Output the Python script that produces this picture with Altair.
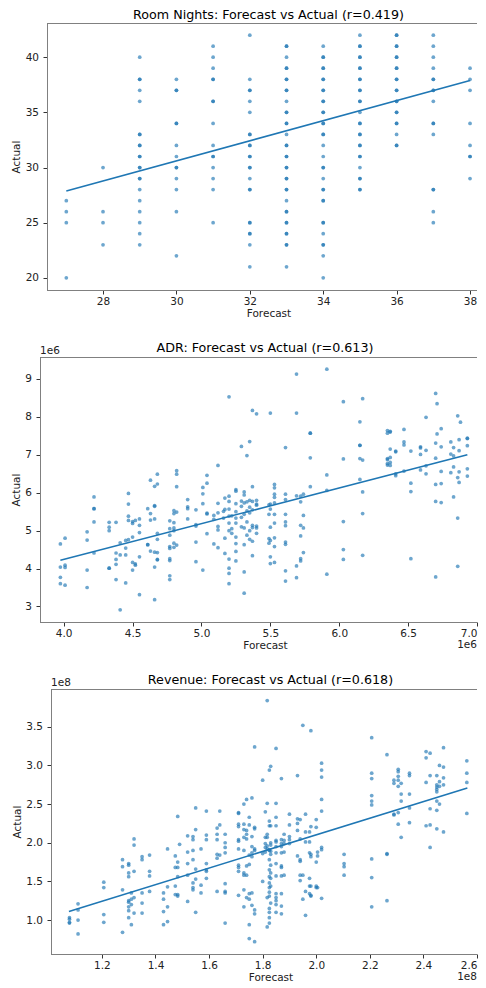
import altair as alt
import pandas as pd

FONT = "DejaVu Sans"
BLUE = "#1f77b4"
SPINE = "#808080"

# ---------------- Room Nights (forecast -> list of actuals) ----------------
rn_columns = {
    27: [27, 26, 25, 20],
    28: [30, 26, 25, 23],
    29: [40, 38, 38, 37, 36, 33, 33, 32, 32, 31, 31, 30, 30, 29, 29, 28, 27, 26, 25, 24, 23],
    30: [38, 37, 37, 34, 34, 32, 31, 30, 30, 29, 28, 26, 22],
    31: [41, 40, 39, 38, 38, 36, 36, 34, 32, 31, 31, 30, 29, 28, 25],
    32: [42, 38, 37, 37, 36, 35, 33, 33, 32, 32, 31, 31, 30, 30, 29, 28, 28, 25, 25, 24, 24, 23, 21],
    33: [41, 41, 40, 39, 39, 38, 38, 37, 37, 36, 35, 35, 34, 34, 33, 32, 32, 31, 31, 30, 30,
         29, 29, 28, 28, 27, 26, 26, 25, 25, 24, 24, 23, 23, 21],
    34: [41, 40, 40, 39, 39, 38, 38, 37, 37, 36, 36, 35, 35, 34, 34, 33, 33, 32, 31, 30, 30,
         29, 28, 28, 27, 27, 25, 25, 24, 23, 23, 22, 20],
    35: [42, 41, 41, 40, 40, 39, 39, 38, 38, 37, 37, 36, 36, 35, 34, 34, 33, 33, 32, 32, 31,
         31, 30, 29, 29, 28, 28],
    36: [42, 42, 41, 41, 40, 40, 39, 39, 38, 38, 37, 37, 36, 36, 35, 35, 34, 34, 33, 32, 32],
    37: [42, 41, 40, 39, 38, 38, 37, 37, 36, 34, 34, 33, 28, 28, 26, 25],
    38: [39, 38, 37, 34, 32, 31, 31, 29],
}
rn_fit_x = [27, 38]
rn_fit_y = [27.87, 37.88]

# ---------------- ADR (values in units of 1e6) ----------------
adr_columns = {
    3.976: [4.65, 4.04, 3.77, 3.60],
    4.01: [4.80, 4.09, 4.03, 3.56],
    4.17: [4.97, 4.75, 3.96, 3.50],
    4.22: [5.89, 5.58, 5.58, 5.23, 4.41],
    4.33: [5.22, 5.09, 5.00, 4.01, 4.01],
    4.38: [5.22, 4.41, 4.24, 4.11, 3.71],
    4.41: [4.68, 4.36, 2.91],
    4.45: [4.74, 4.54, 4.36, 3.62],
    4.47: [5.98, 5.70, 5.38, 5.27, 4.76],
    4.50: [5.24, 5.19, 4.83, 4.16, 3.96],
    4.52: [5.27, 4.12, 4.09],
    4.55: [5.31, 5.14, 4.95, 4.31, 3.31],
    4.61: [5.58, 4.63, 4.63],
    4.63: [6.33, 5.45, 5.28, 4.46],
    4.66: [6.17, 5.66, 5.64, 5.31, 4.43, 4.04, 3.18],
    4.68: [6.49, 6.23, 4.93, 4.77, 4.42, 4.24, 4.23],
    4.77: [5.26, 5.05, 4.88, 4.58, 4.53, 4.26, 4.21, 3.81, 3.71],
    4.80: [5.53, 5.45, 5.21, 5.07, 5.00, 4.67, 4.56],
    4.82: [6.58, 6.49, 6.16, 5.49, 4.62],
    4.90: [5.82, 5.63, 5.58, 5.31],
    4.96: [5.55, 5.16, 5.12, 4.70, 4.18],
    5.01: [6.14, 5.97, 5.71, 3.96],
    5.04: [6.46, 6.25, 5.46, 5.44, 4.92],
    5.09: [5.40, 5.30, 4.65],
    5.12: [6.72, 5.72, 5.47, 5.11, 5.02, 4.55],
    5.16: [5.51, 5.33],
    5.17: [5.86, 5.56, 4.80, 4.40],
    5.20: [8.53, 5.91, 5.77, 5.57, 5.38, 5.20, 5.00, 4.25, 4.01, 3.87, 3.60],
    5.22: [5.39, 5.05, 4.93],
    5.25: [6.08, 6.04, 5.71, 5.50, 5.33, 5.20, 4.83, 4.66, 4.45, 4.20],
    5.29: [7.22, 5.78, 5.64, 5.35, 5.10],
    5.31: [6.02, 5.94, 5.73, 5.43, 5.07, 4.63, 3.91, 3.35],
    5.33: [6.98, 5.76, 5.52, 5.23, 4.88],
    5.35: [7.35, 5.80, 5.62, 5.47, 5.00, 4.77],
    5.37: [8.17, 6.16, 5.77, 5.55, 5.14, 5.08, 4.72, 4.34],
    5.40: [8.08, 5.80, 5.70, 5.67, 5.12, 5.07, 4.93],
    5.49: [5.68, 5.43, 4.79, 4.67],
    5.50: [8.10, 5.70, 5.57, 5.09, 4.74, 4.31, 4.13],
    5.53: [6.22, 6.13, 5.96, 5.88, 5.73, 5.43, 5.20, 4.81, 4.58, 4.16],
    5.61: [7.19, 5.96, 5.82, 5.43, 5.23, 5.13, 4.70, 4.64, 3.94, 3.67],
    5.69: [9.13, 8.10, 5.92, 4.07, 3.76],
    5.72: [5.91, 5.76, 5.14, 4.86, 4.26, 4.20],
    5.74: [5.96, 5.40, 5.07, 4.42],
    5.79: [7.57, 7.57, 6.92, 6.16],
    5.91: [9.26, 6.47, 6.06, 3.85],
    6.03: [8.40, 6.89, 5.24, 4.50, 4.24],
    6.15: [7.87, 7.25, 7.25, 6.90, 6.35],
    6.17: [8.48, 6.86, 6.02, 5.45, 4.35],
    6.35: [7.64, 7.57, 6.90, 6.87, 6.77, 6.73],
    6.37: [7.62, 7.60, 7.15, 6.93, 6.80, 6.72],
    6.41: [7.10, 7.08, 6.50, 6.45],
    6.47: [7.67, 7.34, 7.26, 6.57],
    6.52: [7.10, 6.25, 6.03, 4.26],
    6.59: [7.21, 7.18, 7.01, 6.60],
    6.63: [7.99, 7.12, 6.71, 6.50],
    6.70: [8.62, 7.31, 6.91, 6.22, 5.77, 3.78],
    6.71: [8.35, 7.55],
    6.74: [7.69, 7.21, 6.56, 6.24, 5.74],
    6.81: [7.34, 7.02, 6.53],
    6.83: [7.19, 6.97, 6.68, 5.89],
    6.86: [8.03, 6.40, 5.33, 4.06],
    6.87: [7.40, 7.11, 6.55, 6.27],
    6.88: [7.86],
    6.93: [7.44, 7.43, 7.24, 6.63, 6.44],
}
adr_fit_x = [3.976, 6.93]
adr_fit_y = [4.22, 7.00]

# ---------------- Revenue (values in units of 1e8) ----------------
rev_columns = {
    1.079: [1.03, 1.01, 0.97, 0.96],
    1.111: [1.21, 1.13, 1.00, 0.82],
    1.207: [1.49, 1.42, 1.07, 0.97],
    1.277: [1.78, 1.69, 1.39, 0.84],
    1.30: [1.73, 1.71, 1.61, 1.56, 1.25, 1.23, 1.17, 1.12, 1.03],
    1.31: [1.35, 1.27, 1.20, 0.94],
    1.32: [2.05, 1.97, 1.63, 1.29, 1.09],
    1.35: [1.82, 1.78, 1.35, 1.22, 1.09],
    1.378: [1.84, 1.63, 1.57, 1.37],
    1.43: [1.35, 1.27, 1.11, 0.94],
    1.445: [1.92, 1.43, 1.17, 0.98],
    1.474: [1.83, 1.68, 1.44, 1.33],
    1.483: [2.34, 1.75, 1.68, 1.56, 1.33, 1.31],
    1.49: [1.98],
    1.52: [2.09, 1.88, 1.73, 1.58, 1.24],
    1.54: [2.08, 2.04, 1.90, 1.78, 1.48, 1.42, 1.39],
    1.55: [2.45, 2.17, 1.66, 1.53, 1.10],
    1.57: [1.92, 1.45, 1.35],
    1.59: [2.41, 2.10, 2.04, 1.73, 1.65, 1.63, 1.54],
    1.63: [2.19, 2.11, 2.04, 1.85, 1.80, 1.37],
    1.64: [2.41, 2.23, 1.84],
    1.66: [2.11, 2.00, 1.94, 1.87, 1.47, 1.37, 1.35, 0.96],
    1.71: [2.39, 2.38, 2.24, 2.21, 2.04, 2.02, 1.92, 1.71, 1.68, 1.63, 1.32],
    1.73: [2.50, 2.24, 2.17, 2.07, 1.90, 1.61, 1.58, 1.39, 1.17],
    1.74: [2.56, 2.16, 2.11, 2.05, 1.70, 1.58, 1.29],
    1.75: [2.33, 2.23, 1.84, 1.72, 1.34, 1.27, 0.94, 0.76],
    1.76: [2.58, 2.08, 1.95, 1.87, 1.82, 1.35, 1.19],
    1.77: [3.24, 2.20, 2.18, 1.92, 1.90, 1.13, 1.08, 0.72],
    1.80: [2.81, 1.86, 1.50],
    1.81: [2.40, 2.07, 1.99, 1.94, 1.88],
    1.817: [3.84, 2.51, 2.11, 2.07, 1.96, 1.92, 1.29, 0.91],
    1.825: [2.94, 2.28, 2.22, 1.91, 1.90, 1.78, 1.65, 1.56, 1.48, 1.42, 1.36, 1.31, 1.15, 1.10, 1.03, 0.96],
    1.83: [2.99, 2.22, 2.00, 1.97, 1.89, 1.85, 1.71, 1.61, 1.54, 1.44, 1.22],
    1.85: [3.22, 2.51, 2.33, 2.22, 2.03, 2.01, 1.95, 1.87, 1.73, 1.57, 1.34, 1.29, 1.25, 1.20, 1.10],
    1.87: [2.83, 2.04, 1.99, 1.95, 1.87, 1.70, 1.68, 1.57, 1.34, 1.18, 1.08],
    1.88: [2.11, 2.03, 1.99, 1.88, 1.58],
    1.90: [2.37, 2.23, 2.08, 2.04, 1.99],
    1.93: [2.87, 2.31, 2.25, 2.16, 1.83],
    1.94: [2.30, 2.05, 1.78, 1.76, 1.58, 1.51],
    1.95: [3.52, 1.58, 1.27],
    1.96: [2.37, 2.14, 2.01, 1.37, 1.06],
    1.975: [2.14, 2.01, 1.87, 1.54, 1.44, 1.34],
    1.98: [3.45, 2.21, 1.85, 1.82, 1.44, 1.32, 1.31],
    2.00: [2.30, 2.20, 1.75, 1.44, 1.42],
    2.005: [1.88, 1.83, 1.42],
    2.02: [3.03, 2.94, 2.85, 2.56, 2.41, 1.94, 1.91, 1.28],
    2.104: [1.85, 1.73, 1.69, 1.58],
    2.207: [3.36, 2.90, 2.83, 2.61, 2.54, 2.49, 1.79, 1.55, 1.17],
    2.264: [3.14, 1.86, 1.85, 1.25],
    2.29: [2.81, 2.77, 2.37, 2.36],
    2.306: [2.95, 2.92, 2.86, 2.81, 2.73, 2.39, 2.24],
    2.317: [2.77, 2.63, 2.54, 2.07],
    2.348: [2.90, 2.87, 2.63, 2.45, 2.26],
    2.41: [3.18, 3.10, 2.78, 2.22],
    2.425: [3.16, 2.87, 2.44, 2.23, 1.94],
    2.45: [2.87, 2.75, 2.72, 2.69, 2.66, 2.54, 2.42, 2.18],
    2.46: [3.00, 2.79, 2.73, 2.50],
    2.475: [3.23, 2.98, 2.84, 2.75, 2.14],
    2.562: [3.06, 2.90, 2.78, 2.38],
}
rev_fit_x = [1.077, 2.564]
rev_fit_y = [1.11, 2.71]

titles = [
    "Room Nights: Forecast vs Actual (r=0.419)",
    "ADR: Forecast vs Actual (r=0.613)",
    "Revenue: Forecast vs Actual (r=0.618)",
]

W = 437      # drawn width of each panel group (the page cuts the rest)
FULL = 450   # full width of the original axes box, used for centring titles


def flatten(cols):
    xs, ys = [], []
    for x, vals in cols.items():
        for v in vals:
            xs.append(x)
            ys.append(v)
    return pd.DataFrame({"Forecast": xs, "Actual": ys})


def panel(cols, fit_x, fit_y, title, xdom, ydom, xticks, yticks, xfmt, yfmt,
          left, yextent, title_offset, H, offset=None):
    pts = flatten(cols)
    fit = pd.DataFrame({"Forecast": fit_x, "Actual": fit_y})
    frame = pd.DataFrame({"k": [0]})
    centre = (left + FULL) / 2
    xenc = alt.X("Forecast:Q",
                 scale=alt.Scale(domain=xdom, nice=False, zero=False),
                 axis=alt.Axis(values=xticks, format=xfmt, title="Forecast",
                               domain=False, labelPadding=2, titlePadding=2,
                               labelFlush=True, titleX=centre))
    yenc = alt.Y("Actual:Q",
                 scale=alt.Scale(domain=ydom, nice=False, zero=False),
                 axis=alt.Axis(values=yticks, format=yfmt, title="Actual",
                               offset=-left, labelPadding=4.5, titlePadding=3,
                               minExtent=yextent, maxExtent=yextent))
    dots = alt.Chart(pts).mark_circle(size=14, color=BLUE, opacity=0.65).encode(x=xenc, y=yenc)
    line = alt.Chart(fit).mark_line(color=BLUE, strokeWidth=1.6).encode(x=xenc, y=yenc)
    top = alt.Chart(frame).mark_rule(color=SPINE, strokeWidth=1).encode(
        x=alt.value(left), x2=alt.value(W), y=alt.value(0.5))
    bottom = alt.Chart(frame).mark_rule(color=SPINE, strokeWidth=1).encode(
        x=alt.value(left), x2=alt.value(W), y=alt.value(H + 0.5))
    layers = [dots, line, top, bottom]
    if offset:
        off = pd.DataFrame({"t": [offset]})
        layers.append(
            alt.Chart(off).mark_text(align="left", baseline="alphabetic", font=FONT,
                                     fontSize=10.5, color="#222")
            .encode(x=alt.value(left), y=alt.value(-3), text="t:N"))
        layers.append(
            alt.Chart(off).mark_text(align="right", baseline="top", font=FONT,
                                     fontSize=10.5, color="#222")
            .encode(x=alt.value(W), y=alt.value(H + 17.5), text="t:N"))
    return alt.layer(*layers).properties(
        width=W, height=H,
        title=alt.Title(title, font=FONT, fontSize=12.7, fontWeight="normal",
                        color="black", anchor="middle", frame="group",
                        offset=title_offset, dx=centre - W / 2),
    )


p1 = panel(rn_columns, rn_fit_x, rn_fit_y, titles[0], [26.283, 38.19], [18.9, 43.1],
           [28, 30, 32, 34, 36, 38], [20, 25, 30, 35, 40], "d", "d",
           7, 22.5, 1.5, 267)
p2 = panel(adr_columns, adr_fit_x, adr_fit_y, titles[1], [3.828, 7.0], [2.59, 9.58],
           [4.0, 4.5, 5.0, 5.5, 6.0, 6.5, 7.0], [3, 4, 5, 6, 7, 8, 9], ".1f", "d",
           0, 16, -8.3, 265, offset="1e6")
p3 = panel(rev_columns, rev_fit_x, rev_fit_y, titles[2], [0.969, 2.6], [0.56, 3.99],
           [1.2, 1.4, 1.6, 1.8, 2.0, 2.2, 2.4, 2.6], [1.0, 1.5, 2.0, 2.5, 3.0, 3.5], ".1f", ".1f",
           11, 26, -8.3, 265, offset="1e8")

chart = (
    alt.vconcat(p1, p2, p3, spacing=22)
    .properties(padding={"left": 3, "top": 0, "right": 0, "bottom": 0})
    .configure_view(stroke=None)
    .configure_axis(
        grid=False,
        labelFont=FONT, labelFontSize=10.5, labelColor="#222",
        titleFont=FONT, titleFontSize=10.5, titleFontWeight="normal", titleColor="#222",
        tickSize=4, tickColor="#333", tickWidth=1,
        domainColor=SPINE, domainWidth=1,
    )
)

chart.save("out.html", embed_options={"renderer": "svg", "actions": False})
